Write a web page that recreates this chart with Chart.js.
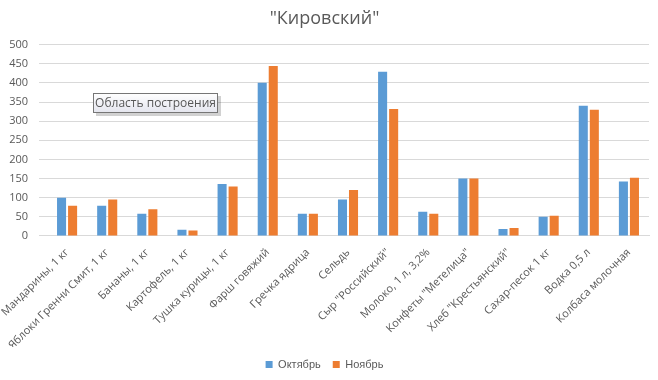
<!DOCTYPE html>
<html><head><meta charset="utf-8">
<script src="https://cdn.jsdelivr.net/npm/chart.js@4"></script>
<style>html,body{margin:0;padding:0;background:#fff}#wrap{width:658px;height:380px}</style>
</head><body><div id="wrap"><canvas id="c"></canvas></div>
<script>
const categories = ['Мандарины, 1 кг','Яблоки Гренни Смит, 1 кг','Бананы, 1 кг','Картофель, 1 кг','Тушка курицы, 1 кг','Фарш говяжий','Гречка ядрица','Сельдь','Сыр "Российский"','Молоко, 1 л, 3,2%','Конфеты "Метелица"','Хлеб "Крестьянский"','Сахар-песок 1 кг','Водка 0,5 л','Колбаса молочная'];
const october = [100,79,58,16,136,400,58,95,429,63,150,18,50,340,142];
const november = [79,95,70,14,129,444,58,120,332,58,150,21,53,330,152];
const yTicks = [0,50,100,150,200,250,300,350,400,450,500];
const seriesNames = ['Октябрь','Ноябрь'];
const titleText = '"Кировский"';
const noteText = 'Область построения';

const notePlugin = {
  id:'note',
  afterDraw(chart){
    const ctx = chart.ctx;
    const x=93,y=93,w=125,h=20;
    ctx.save();
    ctx.fillStyle='rgba(0,0,0,0.18)';
    ctx.fillRect(x+3,y+3,w,h);
    const g = ctx.createLinearGradient(0,y,0,y+h);
    g.addColorStop(0,'#ffffff'); g.addColorStop(1,'#e4e5ee');
    ctx.fillStyle=g;
    ctx.fillRect(x,y,w,h);
    ctx.strokeStyle='#767676'; ctx.lineWidth=1;
    ctx.strokeRect(x+0.5,y+0.5,w-1,h-1);
    ctx.fillStyle='#575757';
    ctx.font='12px "Open Sans", "Noto Sans", sans-serif';
    ctx.textBaseline='middle'; ctx.textAlign='center';
    ctx.fillText(noteText,x+w/2,y+h/2+1);
    ctx.restore();
  }
};

new Chart(document.getElementById('c'),{
  type:'bar',
  data:{labels:categories,datasets:[
    {label:seriesNames[0],data:october,backgroundColor:'#5B9BD5'},
    {label:seriesNames[1],data:november,backgroundColor:'#ED7D31'}
  ]},
  options:{
    responsive:true,maintainAspectRatio:false,animation:false,
    devicePixelRatio:1,
    layout:{padding:{left:0,right:9,top:0,bottom:0}},
    datasets:{bar:{barPercentage:0.82,categoryPercentage:0.55}},
    plugins:{
      title:{display:true,text:titleText,color:'#595959',font:{size:18,family:'"Open Sans", "Noto Sans", sans-serif',weight:'normal'},padding:{top:8,bottom:15}},
      legend:{position:'bottom',labels:{boxWidth:7,boxHeight:7,color:'#595959',font:{size:11,family:'"Liberation Sans", Arial, sans-serif'},padding:12}},
      tooltip:{enabled:false}
    },
    scales:{
      x:{grid:{display:false},border:{color:'#d9d9d9'},
        afterFit(s){s.height-=7;},
        ticks:{color:'#595959',maxRotation:45,minRotation:45,autoSkip:false,font:{size:11,family:'"Open Sans", "Noto Sans", sans-serif'},padding:2}},
      y:{min:0,max:500,afterBuildTicks(s){s.ticks=yTicks.map(v=>({value:v}));},
        afterFit(s){s.width=47;},
        grid:{color:'#d9d9d9'},border:{display:false},
        ticks:{color:'#595959',font:{size:11,family:'"Open Sans", "Noto Sans", sans-serif'},padding:11}}
    }
  },
  plugins:[notePlugin]
});
</script></body></html>
